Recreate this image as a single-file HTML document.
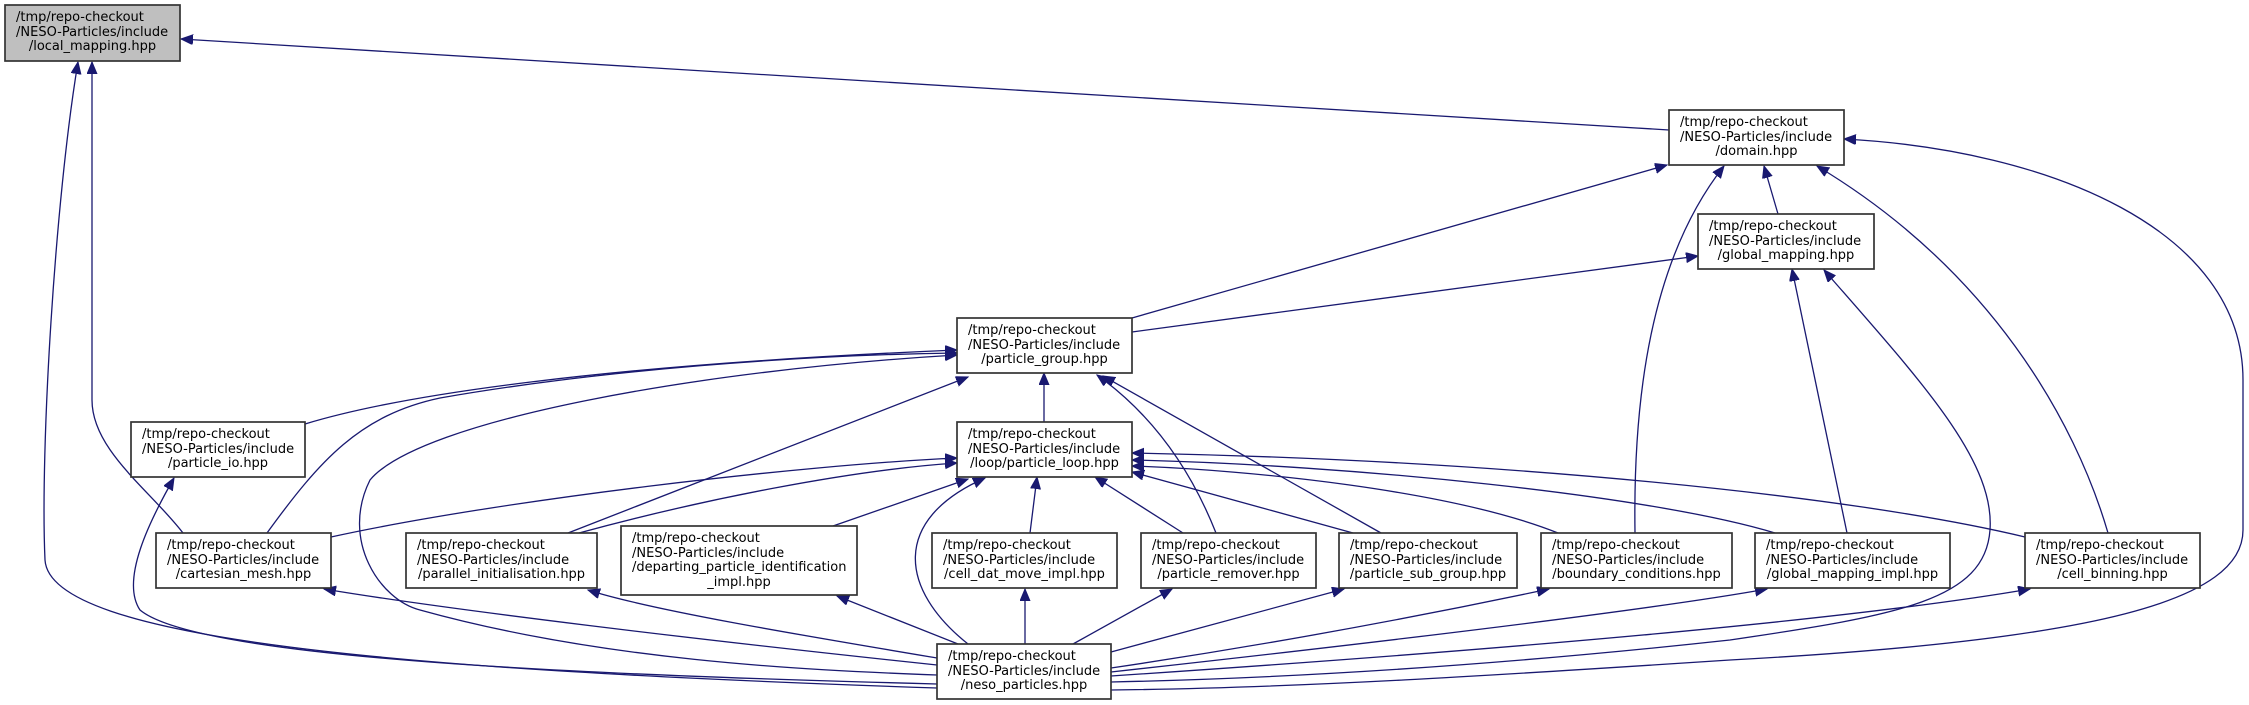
<!DOCTYPE html>
<html><head><meta charset="utf-8">
<style>
html,body{margin:0;padding:0;background:#fff;}
svg{display:block;}
text{font-family:"DejaVu Sans","Liberation Sans",sans-serif;font-size:13px;fill:#000;}
.e{fill:none;stroke:#191970;stroke-width:1.3;marker-end:url(#a);}
.n{fill:#fff;stroke:#333;stroke-width:1.7;}
</style></head>
<body>
<svg width="2249" height="705" viewBox="0 0 2249 705" xmlns="http://www.w3.org/2000/svg">
<defs>
<marker id="a" markerWidth="14" markerHeight="12" refX="12" refY="5" orient="auto" markerUnits="userSpaceOnUse">
<path d="M0,0 L12,5 L0,10 z" fill="#191970" stroke="#191970"/>
</marker>
</defs>

<!-- edges -->
<path class="e" d="M1669,130 L181,39"/>
<path class="e" d="M183,533 C150,490 92,450 92,400 L92,62"/>
<path class="e" d="M937,688 C400,670 50,640 45,560 C40,450 55,200 78,62"/>
<path class="e" d="M1132,318 L1667,165"/>
<path class="e" d="M1778,214 L1764,166"/>
<path class="e" d="M1635,533 C1633,400 1650,260 1724,166"/>
<path class="e" d="M2108,533 C2075,420 1990,270 1817,166"/>
<path class="e" d="M1111,690 C1300,688 1500,675 1730,660 C2100,640 2243,600 2243,530 L2243,380 C2243,230 2050,150 1844,139"/>
<path class="e" d="M1132,332 L1698,256"/>
<path class="e" d="M1847,533 L1792,269"/>
<path class="e" d="M1111,682 C1300,678 1500,665 1730,640 C1900,615 1985,600 1990,530 C1995,460 1920,380 1824,270"/>
<path class="e" d="M305,424 C400,395 600,365 957,350"/>
<path class="e" d="M267,533 C320,460 360,415 440,398 C600,370 800,355 957,353"/>
<path class="e" d="M937,675 C800,670 600,660 420,610 C380,600 340,540 370,480 C420,420 700,370 957,355"/>
<path class="e" d="M568,533 L968,377"/>
<path class="e" d="M1044,422 L1044,373"/>
<path class="e" d="M1216,533 C1195,480 1160,420 1097,375"/>
<path class="e" d="M1381,533 L1103,376"/>
<path class="e" d="M331,537 C500,500 800,465 957,458"/>
<path class="e" d="M579,533 C700,500 850,470 957,463"/>
<path class="e" d="M833,526 L968,479"/>
<path class="e" d="M968,644 C900,590 890,520 985,478"/>
<path class="e" d="M1030,533 L1037,477"/>
<path class="e" d="M1183,533 L1095,477"/>
<path class="e" d="M1353,533 L1132,472"/>
<path class="e" d="M1558,533 C1450,490 1250,470 1132,466"/>
<path class="e" d="M1775,533 C1650,495 1350,465 1132,460"/>
<path class="e" d="M2025,537 C1850,495 1500,460 1132,453"/>
<path class="e" d="M937,684 C600,675 200,660 140,610 C120,580 150,520 174,478"/>
<path class="e" d="M937,665 C700,640 450,610 324,589"/>
<path class="e" d="M937,658 C800,635 650,610 588,590"/>
<path class="e" d="M958,644 L837,596"/>
<path class="e" d="M1025,644 L1025,589"/>
<path class="e" d="M1073,644 L1172,589"/>
<path class="e" d="M1111,652 L1344,589"/>
<path class="e" d="M1111,668 C1300,640 1450,610 1549,589"/>
<path class="e" d="M1111,672 C1400,640 1650,610 1767,589"/>
<path class="e" d="M1111,676 C1500,650 1850,620 2030,589"/>

<!-- nodes -->
<rect x="5" y="5" width="175" height="56" fill="#bfbfbf" stroke="#333" stroke-width="1.7"/>
<text x="16" y="21">/tmp/repo-checkout</text><text x="16" y="36">/NESO-Particles/include</text><text x="92.5" y="50" text-anchor="middle">/local_mapping.hpp</text>

<rect class="n" x="1669" y="110" width="175" height="55"/>
<text x="1680" y="126">/tmp/repo-checkout</text><text x="1680" y="141">/NESO-Particles/include</text><text x="1756.5" y="155" text-anchor="middle">/domain.hpp</text>

<rect class="n" x="1698" y="214" width="176" height="55"/>
<text x="1709" y="230">/tmp/repo-checkout</text><text x="1709" y="245">/NESO-Particles/include</text><text x="1786" y="259" text-anchor="middle">/global_mapping.hpp</text>

<rect class="n" x="957" y="318" width="175" height="55"/>
<text x="968" y="334">/tmp/repo-checkout</text><text x="968" y="349">/NESO-Particles/include</text><text x="1044.5" y="363" text-anchor="middle">/particle_group.hpp</text>

<rect class="n" x="131" y="422" width="174" height="55"/>
<text x="142" y="438">/tmp/repo-checkout</text><text x="142" y="453">/NESO-Particles/include</text><text x="218" y="467" text-anchor="middle">/particle_io.hpp</text>

<rect class="n" x="957" y="422" width="175" height="55"/>
<text x="968" y="438">/tmp/repo-checkout</text><text x="968" y="453">/NESO-Particles/include</text><text x="1044.5" y="467" text-anchor="middle">/loop/particle_loop.hpp</text>

<rect class="n" x="156" y="533" width="175" height="55"/>
<text x="167" y="549">/tmp/repo-checkout</text><text x="167" y="564">/NESO-Particles/include</text><text x="243.5" y="578" text-anchor="middle">/cartesian_mesh.hpp</text>

<rect class="n" x="406" y="533" width="191" height="55"/>
<text x="417" y="549">/tmp/repo-checkout</text><text x="417" y="564">/NESO-Particles/include</text><text x="501.5" y="578" text-anchor="middle">/parallel_initialisation.hpp</text>

<rect class="n" x="621" y="526" width="236" height="69"/>
<text x="632" y="542">/tmp/repo-checkout</text><text x="632" y="557">/NESO-Particles/include</text><text x="632" y="571">/departing_particle_identification</text><text x="739" y="586" text-anchor="middle">_impl.hpp</text>

<rect class="n" x="932" y="533" width="185" height="55"/>
<text x="943" y="549">/tmp/repo-checkout</text><text x="943" y="564">/NESO-Particles/include</text><text x="1024.5" y="578" text-anchor="middle">/cell_dat_move_impl.hpp</text>

<rect class="n" x="1141" y="533" width="175" height="55"/>
<text x="1152" y="549">/tmp/repo-checkout</text><text x="1152" y="564">/NESO-Particles/include</text><text x="1228.5" y="578" text-anchor="middle">/particle_remover.hpp</text>

<rect class="n" x="1339" y="533" width="178" height="55"/>
<text x="1350" y="549">/tmp/repo-checkout</text><text x="1350" y="564">/NESO-Particles/include</text><text x="1428" y="578" text-anchor="middle">/particle_sub_group.hpp</text>

<rect class="n" x="1541" y="533" width="191" height="55"/>
<text x="1552" y="549">/tmp/repo-checkout</text><text x="1552" y="564">/NESO-Particles/include</text><text x="1636.5" y="578" text-anchor="middle">/boundary_conditions.hpp</text>

<rect class="n" x="1755" y="533" width="195" height="55"/>
<text x="1766" y="549">/tmp/repo-checkout</text><text x="1766" y="564">/NESO-Particles/include</text><text x="1852.5" y="578" text-anchor="middle">/global_mapping_impl.hpp</text>

<rect class="n" x="2025" y="533" width="175" height="55"/>
<text x="2036" y="549">/tmp/repo-checkout</text><text x="2036" y="564">/NESO-Particles/include</text><text x="2112.5" y="578" text-anchor="middle">/cell_binning.hpp</text>

<rect class="n" x="937" y="644" width="174" height="55"/>
<text x="948" y="660">/tmp/repo-checkout</text><text x="948" y="675">/NESO-Particles/include</text><text x="1024" y="689" text-anchor="middle">/neso_particles.hpp</text>
</svg>
</body></html>
